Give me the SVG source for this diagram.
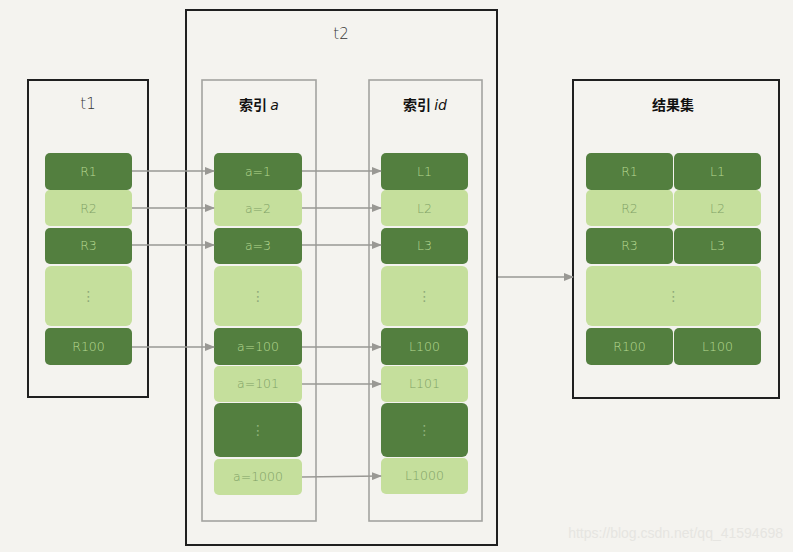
<svg xmlns="http://www.w3.org/2000/svg" width="793" height="552" viewBox="0 0 793 552">
<defs>
<marker id="ah" markerWidth="10" markerHeight="8" refX="9" refY="4" orient="auto" markerUnits="userSpaceOnUse">
<path d="M0,0 L10,4 L0,8 Z" fill="#999894"/>
</marker>
<style>
.frame{fill:none;stroke:#1f1f1f;stroke-width:2}
.sub{fill:none;stroke:#a3a3a0;stroke-width:1.6}
.d{fill:#537f3f}
.l{fill:#c5df9c}
.td{fill:#b6d991;font-family:"DejaVu Sans","Liberation Sans",sans-serif;font-size:12.5px;font-weight:300;text-anchor:middle}
.tl{fill:#7f9f66;font-family:"DejaVu Sans","Liberation Sans",sans-serif;font-size:12.5px;font-weight:300;text-anchor:middle}
.dots{fill:#8fa97a;font-family:"DejaVu Sans",sans-serif;font-size:14px;text-anchor:middle}
.dotsd{fill:#8fb37a;font-family:"DejaVu Sans",sans-serif;font-size:14px;text-anchor:middle}
.title{fill:#333;font-family:"DejaVu Sans","Liberation Sans",sans-serif;font-size:15px;font-weight:300;text-anchor:middle}
.cn{fill:#111;font-family:"Noto Sans CJK SC","DejaVu Sans",sans-serif;font-size:14px;font-weight:bold;text-anchor:middle}
.conn{stroke:#999894;stroke-width:1.6;fill:none;marker-end:url(#ah)}
</style>
</defs>
<rect x="0" y="0" width="793" height="552" fill="#f4f3ef"/>

<g id="t1">
<rect class="frame" x="28" y="80" width="120" height="317"/>
<text class="title" x="88" y="109">t1</text>
<rect class="d" x="45" y="153" width="87" height="37" rx="5"/><text class="td" x="88.5" y="176">R1</text>
<rect class="l" x="45" y="190" width="87" height="36" rx="5"/><text class="tl" x="88.5" y="213">R2</text>
<rect class="d" x="45" y="228" width="87" height="36" rx="5"/><text class="td" x="88.5" y="250">R3</text>
<rect class="l" x="45" y="266" width="87" height="60" rx="6"/><text class="dots" x="88.5" y="301">⋮</text>
<rect class="d" x="45" y="328" width="87" height="37" rx="5"/><text class="td" x="88.5" y="351">R100</text>
</g>

<g id="t2">
<rect class="frame" x="186" y="10" width="311" height="535"/>
<text class="title" x="341" y="39">t2</text>
</g>

<g id="index-a">
<rect class="sub" x="202" y="80" width="114" height="441"/>
<text class="cn" x="259" y="110">索引 <tspan font-style="italic" font-weight="normal" font-family="DejaVu Sans">a</tspan></text>
<rect class="d" x="214" y="153" width="88" height="37" rx="5"/><text class="td" x="258" y="176">a=1</text>
<rect class="l" x="214" y="190" width="88" height="36" rx="5"/><text class="tl" x="258" y="213">a=2</text>
<rect class="d" x="214" y="228" width="88" height="36" rx="5"/><text class="td" x="258" y="250">a=3</text>
<rect class="l" x="214" y="266" width="88" height="60" rx="6"/><text class="dots" x="258" y="301">⋮</text>
<rect class="d" x="214" y="328" width="88" height="37" rx="5"/><text class="td" x="258" y="351">a=100</text>
<rect class="l" x="214" y="366" width="88" height="36" rx="5"/><text class="tl" x="258" y="388">a=101</text>
<rect class="d" x="214" y="403" width="88" height="54" rx="6"/><text class="dotsd" x="258" y="435">⋮</text>
<rect class="l" x="214" y="459" width="88" height="36" rx="5"/><text class="tl" x="258" y="481">a=1000</text>
</g>

<g id="index-id">
<rect class="sub" x="369" y="80" width="113" height="441"/>
<text class="cn" x="425" y="110">索引 <tspan font-style="italic" font-weight="normal" font-family="DejaVu Sans">id</tspan></text>
<rect class="d" x="381" y="153" width="87" height="37" rx="5"/><text class="td" x="424.5" y="176">L1</text>
<rect class="l" x="381" y="190" width="87" height="36" rx="5"/><text class="tl" x="424.5" y="213">L2</text>
<rect class="d" x="381" y="228" width="87" height="36" rx="5"/><text class="td" x="424.5" y="250">L3</text>
<rect class="l" x="381" y="266" width="87" height="60" rx="6"/><text class="dots" x="424.5" y="301">⋮</text>
<rect class="d" x="381" y="328" width="87" height="37" rx="5"/><text class="td" x="424.5" y="351">L100</text>
<rect class="l" x="381" y="366" width="87" height="36" rx="5"/><text class="tl" x="424.5" y="388">L101</text>
<rect class="d" x="381" y="403" width="87" height="54" rx="6"/><text class="dotsd" x="424.5" y="435">⋮</text>
<rect class="l" x="381" y="458" width="87" height="36" rx="5"/><text class="tl" x="424.5" y="480">L1000</text>
</g>

<g id="result">
<rect class="frame" x="573" y="80" width="206" height="318"/>
<text class="cn" x="673" y="110">结果集</text>
<rect class="d" x="586" y="153" width="87" height="37" rx="5"/><text class="td" x="629.5" y="176">R1</text>
<rect class="d" x="674" y="153" width="87" height="37" rx="5"/><text class="td" x="717.5" y="176">L1</text>
<rect class="l" x="586" y="190" width="87" height="36" rx="5"/><text class="tl" x="629.5" y="213">R2</text>
<rect class="l" x="674" y="190" width="87" height="36" rx="5"/><text class="tl" x="717.5" y="213">L2</text>
<rect class="d" x="586" y="228" width="87" height="36" rx="5"/><text class="td" x="629.5" y="250">R3</text>
<rect class="d" x="674" y="228" width="87" height="36" rx="5"/><text class="td" x="717.5" y="250">L3</text>
<rect class="l" x="586" y="266" width="175" height="60" rx="6"/><text class="dots" x="673.5" y="301">⋮</text>
<rect class="d" x="586" y="328" width="87" height="37" rx="5"/><text class="td" x="629.5" y="351">R100</text>
<rect class="d" x="674" y="328" width="87" height="37" rx="5"/><text class="td" x="717.5" y="351">L100</text>
</g>

<g id="connectors">
<line class="conn" x1="132" y1="171" x2="214" y2="171"/>
<line class="conn" x1="132" y1="208" x2="214" y2="208"/>
<line class="conn" x1="132" y1="245" x2="214" y2="245"/>
<line class="conn" x1="132" y1="347" x2="214" y2="347"/>
<line class="conn" x1="302" y1="171" x2="381" y2="171"/>
<line class="conn" x1="302" y1="208" x2="381" y2="208"/>
<line class="conn" x1="302" y1="245" x2="381" y2="245"/>
<line class="conn" x1="302" y1="347" x2="381" y2="347"/>
<line class="conn" x1="302" y1="384" x2="381" y2="384"/>
<line class="conn" x1="302" y1="477" x2="381" y2="476"/>
<line class="conn" x1="498" y1="277" x2="573" y2="277"/>
</g>

<text x="783" y="538" text-anchor="end" font-family="Liberation Sans, Arial, sans-serif" font-size="14" fill="#e6e5e1">https://blog.csdn.net/qq_41594698</text>
</svg>
